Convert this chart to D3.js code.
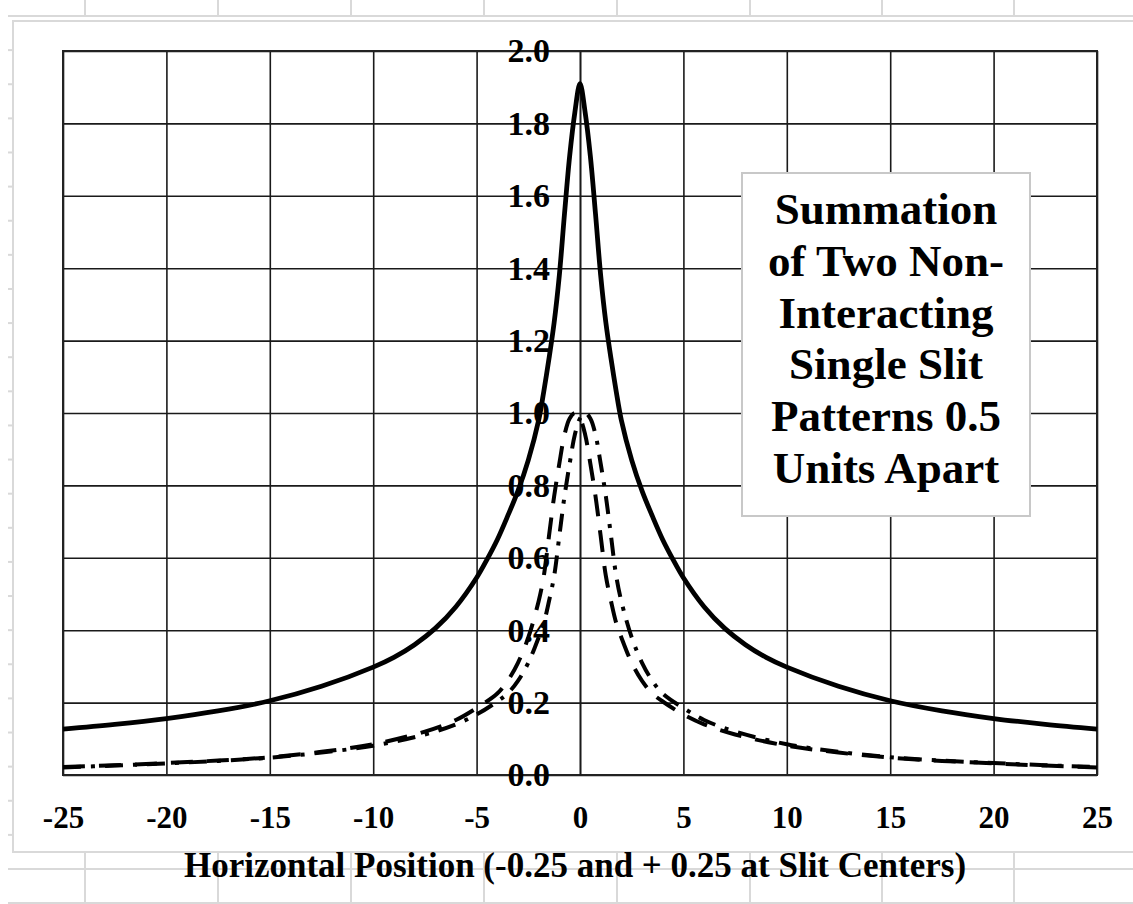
<!DOCTYPE html>
<html><head><meta charset="utf-8">
<script src="https://cdn.jsdelivr.net/npm/d3@7"></script>
<style>body{margin:0;background:#fff} svg{display:block}</style>
</head><body><svg id="c" width="1133" height="904"></svg>
<script>
// ---- data ----
const xTicks = [-25,-20,-15,-10,-5,0,5,10,15,20,25];
const yTicks = [0,0.2,0.4,0.6,0.8,1.0,1.2,1.4,1.6,1.8,2.0];

// solid line: summation
const sumX = [-25,-22.5,-20,-17.5,-15,-12.5,-10,-9,-8,-7,-6,-5,-4.5,-4,-3.5,-3,-2.5,-2,-1.75,-1.5,-1.25,-1,-0.75,-0.5,-0.25,0,0.25,0.5,0.75,1,1.25,1.5,1.75,2,2.5,3,3.5,4,4.5,5,6,7,8,9,10,12.5,15,17.5,20,22.5,25];
const sumY = [0.127,0.14,0.156,0.177,0.205,0.245,0.298,0.325,0.36,0.405,0.465,0.545,0.595,0.65,0.715,0.785,0.87,0.98,1.06,1.15,1.25,1.38,1.55,1.71,1.83,1.91,1.83,1.71,1.55,1.38,1.25,1.15,1.06,0.98,0.87,0.785,0.715,0.65,0.595,0.545,0.465,0.405,0.36,0.325,0.298,0.245,0.205,0.177,0.156,0.14,0.127];

// dashed lines: single slit patterns centred at -0.25 and +0.25
const slitX = [-25,-22.5,-20,-17.5,-15,-12.5,-10,-7.5,-6,-5,-4,-3.5,-3,-2.5,-2,-1.75,-1.5,-1.25,-1,-0.75,-0.5,-0.25,0,0.25,0.5,0.75,1,1.25,1.5,1.75,2,2.5,3,3.5,4,5,6,7.5,10,12.5,15,17.5,20,22.5,25];
const slitAY = [0.022,0.027,0.033,0.040,0.049,0.064,0.085,0.12,0.152,0.185,0.225,0.26,0.31,0.38,0.48,0.55,0.66,0.77,0.86,0.94,0.985,1.0,0.985,0.94,0.86,0.77,0.66,0.55,0.48,0.42,0.38,0.31,0.26,0.225,0.203,0.167,0.14,0.112,0.081,0.062,0.048,0.039,0.032,0.026,0.021];
const slitBY = [0.021,0.026,0.032,0.039,0.048,0.062,0.081,0.112,0.14,0.167,0.203,0.225,0.26,0.31,0.38,0.42,0.48,0.55,0.66,0.77,0.86,0.94,0.985,1.0,0.985,0.94,0.86,0.77,0.66,0.55,0.48,0.38,0.31,0.26,0.225,0.185,0.152,0.12,0.085,0.064,0.049,0.040,0.033,0.027,0.022];

const boxLines = ["Summation","of Two Non-","Interacting","Single Slit","Patterns 0.5","Units Apart"];
const xTitle = "Horizontal Position (-0.25 and + 0.25 at Slit Centers)";

// ---- drawing ----
const svg = d3.select("#c");
const FONT = "'Liberation Serif','Times New Roman',serif";
const sheet = "#d9d9d9";

// spreadsheet background
const cols = [85,218,351,484,617,750,882,1014];
const rowStep = 34.12;
const g0 = svg.append("g");
g0.append("line").attr("x1",8).attr("x2",1133).attr("y1",16).attr("y2",16).attr("stroke",sheet).attr("stroke-width",2);
cols.forEach(c=>{
  g0.append("line").attr("x1",c).attr("x2",c).attr("y1",0).attr("y2",16).attr("stroke",sheet).attr("stroke-width",2);
  g0.append("line").attr("x1",c).attr("x2",c).attr("y1",852).attr("y2",904).attr("stroke",sheet).attr("stroke-width",2);
});
for(let i=0;i<=26;i++){
  const yy = 16 + i*rowStep;
  if (yy>852) {
    g0.append("line").attr("x1",8).attr("x2",1133).attr("y1",yy).attr("y2",yy).attr("stroke",sheet).attr("stroke-width",2);
  } else {
    g0.append("line").attr("x1",8).attr("x2",14).attr("y1",yy).attr("y2",yy).attr("stroke",sheet).attr("stroke-width",2);
  }
}
// chart area
svg.append("rect").attr("x",13).attr("y",21).attr("width",1140).attr("height",831)
  .attr("fill","#fff").attr("stroke",sheet).attr("stroke-width",2);

const x = d3.scaleLinear().domain([-25,25]).range([63,1097]);
const y = d3.scaleLinear().domain([0,2]).range([775,51]);

// gridlines
const grid = svg.append("g");
grid.append("g").attr("transform","translate(0,775)")
  .call(d3.axisBottom(x).tickValues(xTicks).tickSize(-(775-51)).tickFormat(""))
  .call(g=>{g.select(".domain").remove(); g.selectAll("line").attr("stroke","#1a1a1a").attr("stroke-width",1.6);});
grid.append("g").attr("transform","translate(63,0)")
  .call(d3.axisLeft(y).tickValues(yTicks).tickSize(-(1097-63)).tickFormat(""))
  .call(g=>{g.select(".domain").remove(); g.selectAll("line").attr("stroke","#1a1a1a").attr("stroke-width",1.6);});
svg.append("rect").attr("x",63).attr("y",51).attr("width",1097-63).attr("height",775-51)
  .attr("fill","none").attr("stroke","#222").attr("stroke-width",2);

// text box (opaque)
const bx=742, by=173, bw=288, bh=343;
svg.append("rect").attr("x",bx).attr("y",by).attr("width",bw).attr("height",bh)
  .attr("fill","#fff").attr("stroke","#c8c8c8").attr("stroke-width",2);
svg.append("g").selectAll("text").data(boxLines).join("text")
  .attr("x",bx+bw/2).attr("y",(d,i)=>224+i*51.8)
  .attr("text-anchor","middle").attr("font-family",FONT).attr("font-weight","bold")
  .attr("font-size",45).attr("fill","#000").text(d=>d);

// y axis at x=0 with labels
svg.append("g").attr("transform",`translate(${x(0)},0)`)
  .call(d3.axisLeft(y).tickValues(yTicks).tickSize(0).tickPadding(30).tickFormat(d3.format(".1f")))
  .call(g=>{
    g.select(".domain").attr("stroke","#1a1a1a").attr("stroke-width",1.6);
    g.selectAll("text").attr("font-family",FONT).attr("font-weight","bold").attr("font-size",34).attr("fill","#000");
  });

// curves
const lineFn = (xs,ys)=>d3.line().x((d,i)=>x(xs[i])).y((d,i)=>y(ys[i])).curve(d3.curveCatmullRom.alpha(0.5))(ys);
svg.append("path").attr("d",lineFn(slitX,slitAY)).attr("fill","none").attr("stroke","#000")
  .attr("stroke-width",4).attr("stroke-dasharray","22,14");
svg.append("path").attr("d",lineFn(slitX,slitBY)).attr("fill","none").attr("stroke","#000")
  .attr("stroke-width",4).attr("stroke-dasharray","18,10,4,10");
svg.append("path").attr("d",lineFn(sumX,sumY)).attr("fill","none").attr("stroke","#000")
  .attr("stroke-width",4.8).attr("stroke-linejoin","round");

// x axis labels
svg.append("g").attr("transform","translate(0,775)")
  .call(d3.axisBottom(x).tickValues(xTicks).tickSize(0).tickPadding(31).tickFormat(d=>String(d)))
  .call(g=>{
    g.select(".domain").remove();
    g.selectAll("text").attr("font-family",FONT).attr("font-weight","bold").attr("font-size",31).attr("fill","#000");
  });

// x title
svg.append("text").attr("x",575).attr("y",877).attr("text-anchor","middle")
  .attr("font-family",FONT).attr("font-weight","bold").attr("font-size",35).attr("fill","#000").text(xTitle);
</script></body></html>
